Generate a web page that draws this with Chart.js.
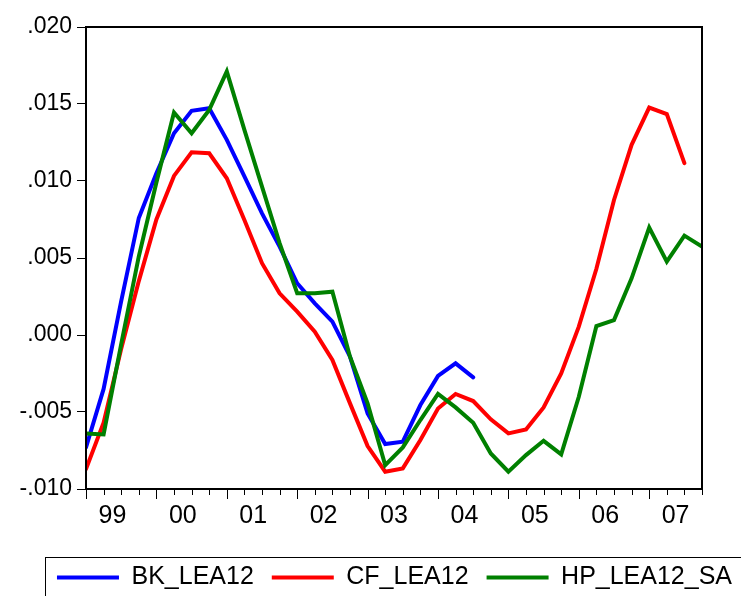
<!DOCTYPE html>
<html>
<head>
<meta charset="utf-8">
<script src="https://cdn.jsdelivr.net/npm/chart.js@4.4.1/dist/chart.umd.min.js"></script>
<style>
    html, body { margin: 0; padding: 0; background: #fff; overflow: hidden; }
</style>
</head>
<body>
<canvas id="myChart" width="741" height="600"></canvas>
<script>
// quarterly observations 1999Q1 .. 2007Q4
const quarters = [
    '1999Q1','1999Q2','1999Q3','1999Q4','2000Q1','2000Q2','2000Q3','2000Q4',
    '2001Q1','2001Q2','2001Q3','2001Q4','2002Q1','2002Q2','2002Q3','2002Q4',
    '2003Q1','2003Q2','2003Q3','2003Q4','2004Q1','2004Q2','2004Q3','2004Q4',
    '2005Q1','2005Q2','2005Q3','2005Q4','2006Q1','2006Q2','2006Q3','2006Q4',
    '2007Q1','2007Q2','2007Q3','2007Q4'
];
const yearLabels = ['99', '00', '01', '02', '03', '04', '05', '06', '07'];
const yTicks = [-0.010, -0.005, 0.000, 0.005, 0.010, 0.015, 0.020];

const bkLea12 = [
    -0.0073, -0.0035, 0.0022, 0.0076, 0.0105, 0.0131, 0.01456, 0.01473,
    0.01267, 0.0103, 0.0079, 0.00574, 0.00336, 0.00206, 0.00087, -0.00141,
    -0.00509, -0.00708, -0.00693, -0.00455, -0.00266, -0.00184, -0.00275, null,
    null, null, null, null, null, null, null, null,
    null, null, null, null
];
const cfLea12 = [
    -0.00871, -0.0057, -0.0009, 0.0035, 0.0075, 0.01033, 0.01187, 0.0118,
    0.01018, 0.00747, 0.00466, 0.00271, 0.00152, 0.00022, -0.00162, -0.00444,
    -0.00721, -0.00888, -0.00866, -0.00682, -0.00477, -0.00383, -0.00429, -0.00548,
    -0.00639, -0.00613, -0.0047, -0.00249, 0.00054, 0.0043, 0.00877, 0.01235,
    0.01477, 0.01434, 0.01116, null
];
const hpLea12Sa = [
    -0.00639, -0.00646, -0.0006, 0.0051, 0.0099, 0.01445, 0.0131, 0.01462,
    0.01711, 0.01332, 0.00964, 0.00596, 0.00271, 0.00271, 0.00281, -0.00141,
    -0.00444, -0.00845, -0.0073, -0.00552, -0.00383, -0.0047, -0.0057, -0.00769,
    -0.00888, -0.0078, -0.00687, -0.00775, -0.00401, 0.00058, 0.00097, 0.00368,
    0.00697, 0.00476, 0.00645, 0.00574
];

const toPoints = arr => arr.map((v, i) => ({ x: i, y: v }));
// label each year midway between its Q1 and Q4 observation
const yearPos = yearLabels.map((y, k) => k * 4 + 1.5);

// frame round the plot, quarter/year tick marks, box round the legend
const framePlugin = {
    id: 'frame',
    afterLayout(chart) {
        chart.legend.left += 24;
        chart.legend.right += 24;
    },
    afterDraw(chart) {
        const ctx = chart.ctx;
        const a = chart.chartArea;
        const xs = chart.scales.x;
        ctx.save();
        ctx.strokeStyle = '#000';
        ctx.lineWidth = 2;
        ctx.strokeRect(a.left, a.top, a.right - a.left, a.bottom - a.top);
        ctx.lineWidth = 1;
        ctx.beginPath();
        quarters.forEach((q, i) => {
            const px = Math.round(xs.getPixelForValue(i)) + 0.5;
            const len = i % 4 === 0 ? 10 : 6;
            ctx.moveTo(px, a.bottom);
            ctx.lineTo(px, a.bottom + len);
        });
        ctx.stroke();
        const lg = chart.legend;
        if (lg.legendHitBoxes && lg.legendHitBoxes.length) {
            const left = Math.round(lg.legendHitBoxes[0].left - 12) + 0.5;
            const top = Math.round(lg.top + 10) + 0.5;
            ctx.strokeRect(left, top, chart.width + 20 - left, 100);
        }
        ctx.restore();
    }
};

const ctx = document.getElementById('myChart').getContext('2d');
new Chart(ctx, {
    type: 'line',
    data: {
        datasets: [
            { label: 'BK_LEA12', data: toPoints(bkLea12), borderColor: '#0000ff', backgroundColor: '#0000ff', order: 3 },
            { label: 'CF_LEA12', data: toPoints(cfLea12), borderColor: '#ff0000', backgroundColor: '#ff0000', order: 2 },
            { label: 'HP_LEA12_SA', data: toPoints(hpLea12Sa), borderColor: '#008000', backgroundColor: '#008000', order: 1 }
        ]
    },
    options: {
        responsive: false,
        animation: false,
        devicePixelRatio: 1,
        layout: { padding: { left: 0, right: 0, top: 27, bottom: 0 } },
        elements: {
            line: { borderWidth: 4, tension: 0, borderCapStyle: 'round', borderJoinStyle: 'miter', fill: false },
            point: { radius: 0, hoverRadius: 0 }
        },
        scales: {
            x: {
                type: 'linear',
                min: 0,
                max: quarters.length - 1,
                grid: { display: false, drawTicks: false },
                border: { display: false },
                afterBuildTicks: scale => { scale.ticks = yearPos.map(v => ({ value: v })); },
                afterFit: scale => { scale.height = 58; },
                ticks: {
                    autoSkip: false,
                    maxRotation: 0,
                    padding: 12,
                    color: '#000',
                    font: { family: 'Liberation Sans', size: 25 },
                    callback: (value, index) => yearLabels[index]
                }
            },
            y: {
                min: yTicks[0],
                max: yTicks[yTicks.length - 1],
                afterBuildTicks: scale => { scale.ticks = yTicks.map(v => ({ value: v })); },
                afterFit: scale => { scale.width = 86; },
                grid: { drawOnChartArea: false, drawTicks: true, tickLength: 9, color: '#000', tickColor: '#000' },
                border: { display: false },
                ticks: {
                    padding: 5,
                    color: '#000',
                    font: { family: 'Liberation Sans', size: 23 },
                    callback: v => {
                        if (Math.abs(v) < 1e-9) v = 0;
                        return v.toFixed(3).replace('0.', '.');
                    }
                }
            },
            yRight: {
                position: 'right',
                min: yTicks[0],
                max: yTicks[yTicks.length - 1],
                grid: { display: false, drawTicks: false },
                border: { display: false },
                ticks: { display: false },
                afterFit: scale => { scale.width = 39; }
            }
        },
        plugins: {
            tooltip: { enabled: false },
            legend: {
                position: 'bottom',
                labels: {
                    boxWidth: 62,
                    boxHeight: 4,
                    padding: 18,
                    color: '#000',
                    font: { family: 'Liberation Sans', size: 25 },
                    sort: (a, b) => a.datasetIndex - b.datasetIndex,
                    generateLabels: chart => Chart.defaults.plugins.legend.labels.generateLabels(chart)
                        .map(item => Object.assign(item, { lineWidth: 0 }))
                }
            }
        }
    },
    plugins: [framePlugin]
});
</script>
</body>
</html>
